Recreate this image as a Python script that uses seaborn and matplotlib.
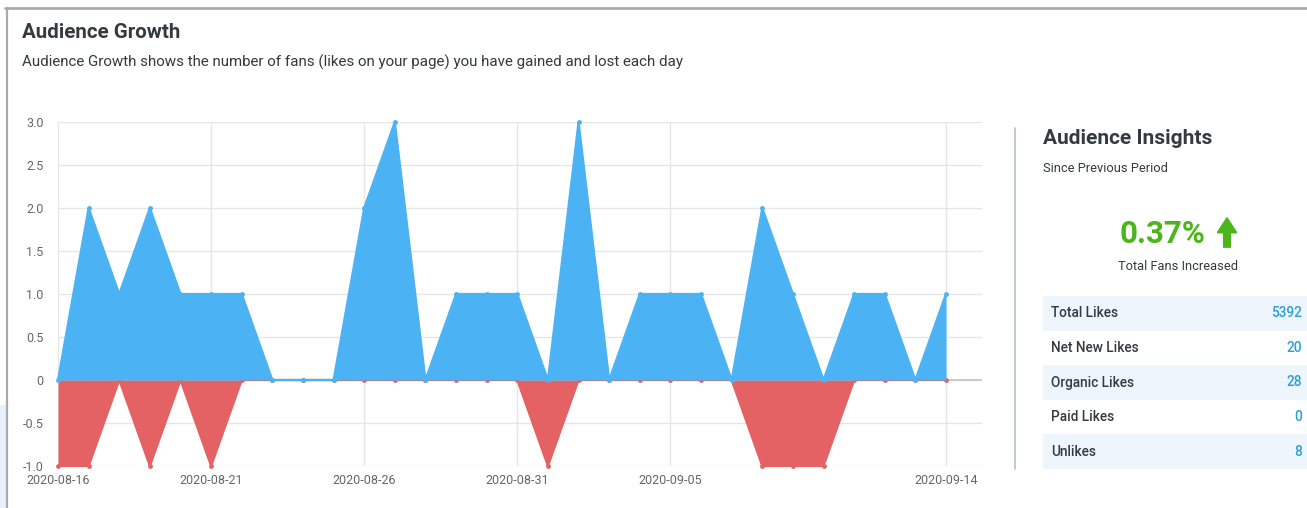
import numpy as np
import pandas as pd
import matplotlib
matplotlib.use("Agg")
import matplotlib.pyplot as plt
import matplotlib.dates as mdates
from matplotlib.patches import Rectangle
from matplotlib.lines import Line2D
from matplotlib.ticker import FuncFormatter, MultipleLocator
import seaborn as sns

# ---- data -------------------------------------------------------------
start_date = "2020-08-16"
n_days = 30
gained = [0, 2, 1, 2, 1, 1, 1, 0, 0, 0, 2, 3, 0, 1, 1,
          1, 0, 3, 0, 1, 1, 1, 0, 2, 1, 0, 1, 1, 0, 1]
lost = [-1, -1, 0, -1, 0, -1, 0, 0, 0, 0, 0, 0, 0, 0, 0,
        0, -1, 0, 0, 0, 0, 0, 0, -1, -1, -1, 0, 0, 0, 0]
tick_dates = ["2020-08-16", "2020-08-21", "2020-08-26",
              "2020-08-31", "2020-09-05", "2020-09-14"]

title = "Audience Growth"
subtitle = "Audience Growth shows the number of fans (likes on your page) you have gained and lost each day"
panel_title = "Audience Insights"
panel_sub = "Since Previous Period"
change_pct = "0.37%"
change_caption = "Total Fans Increased"
stat_labels = ["Total Likes", "Net New Likes", "Organic Likes", "Paid Likes", "Unlikes"]
stat_values = [5392, 20, 28, 0, 8]

# ---- styling ----------------------------------------------------------
sns.set_theme(style="white")
plt.rcParams["font.family"] = ["Roboto", "DejaVu Sans"]

BLUE = "#4bb3f4"
RED = "#e46264"
GREEN = "#4db51c"
TEXT = "#333a40"
TICK = "#666666"
GRID = "#e6e6e6"
VALUE = "#2a9fd6"
ROW_BG = "#eef5fd"

W, H = 1307, 508
fig = plt.figure(figsize=(W / 100, H / 100), dpi=100)
fig.patch.set_facecolor("white")


def fx(px):
    return px / W


def fy(py):
    return 1 - py / H


dates = pd.date_range(start_date, periods=n_days, freq="D")
df = pd.DataFrame({"date": dates, "gained": gained, "lost": lost})

# ---- main area chart ----------------------------------------------------
ax_left, ax_right = 58, 982
ax_top, ax_bottom = 122, 466
ax = fig.add_axes([fx(ax_left), fy(ax_bottom), fx(ax_right - ax_left), (ax_bottom - ax_top) / H])
ax.set_facecolor("white")

ax.fill_between(df["date"], df["lost"], 0, color=RED, linewidth=0, zorder=2)
sns.lineplot(data=df, x="date", y="lost", ax=ax, color=RED, linewidth=1.6,
             marker="o", markersize=3.5, markeredgewidth=0, zorder=3)
ax.fill_between(df["date"], df["gained"], 0, color=BLUE, linewidth=0, zorder=4)
sns.lineplot(data=df, x="date", y="gained", ax=ax, color=BLUE, linewidth=1.6,
             marker="o", markersize=3.5, markeredgewidth=0, zorder=5)
for ln in ax.lines:
    ln.set_clip_on(False)

ax.set_ylim(-1, 3)
span = (ax_right - ax_left) / ((946 - 58) / (n_days - 1))
ax.set_xlim(dates[0], dates[0] + pd.Timedelta(days=span))

ax.yaxis.set_major_locator(MultipleLocator(0.5))
ax.yaxis.set_major_formatter(FuncFormatter(lambda v, p: "0" if abs(v) < 1e-9 else f"{v:.1f}"))
ax.set_xticks(pd.to_datetime(tick_dates))
ax.xaxis.set_major_formatter(mdates.DateFormatter("%Y-%m-%d"))

ax.grid(True, color=GRID, linewidth=1.0, zorder=0)
ax.axhline(0, color="#c4c4c4", linewidth=1.2, zorder=1)
for s in ax.spines.values():
    s.set_visible(False)
ax.tick_params(axis="y", which="major", length=9.5, width=1.0, color=GRID,
               labelsize=9, labelcolor=TICK, pad=1)
ax.tick_params(axis="x", which="major", length=4, width=1.0, color=GRID,
               labelsize=9, labelcolor=TICK, pad=2)
ax.set_xlabel("")
ax.set_ylabel("")

# ---- page frame ---------------------------------------------------------
fig.add_artist(Rectangle((0, fy(508)), fx(6), fy(405) - fy(508), transform=fig.transFigure,
                         facecolor="#e8f0fb", edgecolor="none", zorder=0))
fig.add_artist(Line2D([fx(5), 1], [fy(8), fy(8)], transform=fig.transFigure,
                      color="#aaaaaa", linewidth=2))
fig.add_artist(Line2D([fx(7), fx(7)], [fy(8), 0], transform=fig.transFigure,
                      color="#aaaaaa", linewidth=1.6))

# ---- header -------------------------------------------------------------
fig.text(fx(22), fy(32), title, fontsize=14.8, fontweight="bold", color=TEXT, va="center")
fig.text(fx(22), fy(62), subtitle, fontsize=10.9, color=TEXT, va="center")

# ---- insights panel -----------------------------------------------------
fig.add_artist(Line2D([fx(1015), fx(1015)], [fy(128), fy(469)], transform=fig.transFigure,
                      color="#b8c2ce", linewidth=1.2))
fig.text(fx(1043), fy(139), panel_title, fontsize=15, fontweight="bold", color=TEXT, va="center")
fig.text(fx(1043), fy(168), panel_sub, fontsize=9.3, color=TEXT, va="center")
fig.text(fx(1162), fy(234), change_pct, fontsize=22.5, fontweight="bold", color=GREEN,
         va="center", ha="center")
fig.add_artist(plt.annotate(
    "", xy=(1227, H - 218), xytext=(1227, H - 247), xycoords="figure pixels",
    textcoords="figure pixels",
    arrowprops=dict(arrowstyle="simple,head_length=0.7,head_width=0.9,tail_width=0.32",
                    color=GREEN, mutation_scale=15, shrinkA=0, shrinkB=0)))
fig.text(fx(1178), fy(266), change_caption, fontsize=9.3, color=TEXT, va="center", ha="center")

row_top, row_h = 296, 34.6
for i, (lab, val) in enumerate(zip(stat_labels, stat_values)):
    y0 = row_top + i * row_h
    if i % 2 == 0:
        fig.add_artist(Rectangle((fx(1043), fy(y0 + row_h)), fx(W - 1043), row_h / H,
                                 transform=fig.transFigure, facecolor=ROW_BG,
                                 edgecolor="none", zorder=0))
    yc = y0 + row_h / 2
    fig.text(fx(1051), fy(yc), lab, fontsize=9.8, fontweight="medium", color=TEXT, va="center")
    fig.text(fx(1302), fy(yc), str(val), fontsize=9.8, fontweight="medium", color=VALUE,
             va="center", ha="right")

fig.savefig("out.png", dpi=100, facecolor="white")
